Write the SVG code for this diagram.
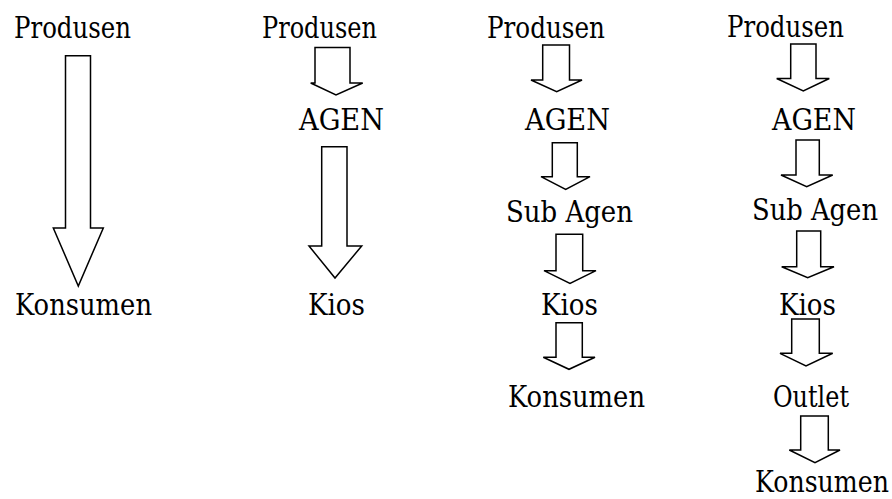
<svg xmlns="http://www.w3.org/2000/svg" width="892" height="499" viewBox="0 0 892 499">
<style>
.t{font-family:"DejaVu Serif","Liberation Serif",serif;font-size:29px;fill:#000}
.a{fill:#fff;stroke:#000;stroke-width:1.5;stroke-linejoin:miter}
</style>
<rect width="892" height="499" fill="#fff"/>
<g id="connectors">
<polygon class="a" points="65.5,55.7 90.5,55.7 90.5,228 103.3,228 78.3,286 53.3,228 65.5,228"/>
<polygon class="a" points="315,47.5 350,47.5 350,83 362.7,83 336,95 310.7,83 315,83"/>
<polygon class="a" points="321.7,146.7 347,146.7 347,246 361.7,246 335,278 309,246 321.7,246"/>
<polygon class="a" points="542.7,45 569.5,45 569.5,80 582,80 556.7,91.7 531,80 542.7,80"/>
<polygon class="a" points="552.3,142.7 577.3,142.7 577.3,176.7 590,176.7 565.7,189.3 541,176.7 552.3,176.7"/>
<polygon class="a" points="556,234.3 582.7,234.3 582.7,270.7 596,270.7 570,283.3 544,270.7 556,270.7"/>
<polygon class="a" points="556,322.7 582.3,322.7 582.3,357.3 595,357.3 569,369.3 543.3,357.3 556,357.3"/>
<polygon class="a" points="790.7,44 816,44 816,78.5 829.3,78.5 803.3,91 776.7,78.5 790.7,78.5"/>
<polygon class="a" points="796,140 819.3,140 819.3,175 832.7,175 806.7,186.7 781,175 796,175"/>
<polygon class="a" points="796.7,231 820.7,231 820.7,266.7 834,266.7 807.7,277.7 781.7,266.7 796.7,266.7"/>
<polygon class="a" points="791.7,319 819.3,319 819.3,353.3 832.7,353.3 806,366 780,353.3 791.7,353.3"/>
<polygon class="a" points="800.7,416 828.3,416 828.3,450 840,450 815,462.7 789.3,450 800.7,450"/>
</g>
<g id="c1-produsen"><text class="t" x="14" y="38" textLength="117" lengthAdjust="spacingAndGlyphs">Produsen</text></g>
<g id="c1-konsumen"><text class="t" x="15" y="315" textLength="137" lengthAdjust="spacingAndGlyphs">Konsumen</text></g>
<g id="c2-produsen"><text class="t" x="262" y="38" textLength="115" lengthAdjust="spacingAndGlyphs">Produsen</text></g>
<g id="c2-agen"><text class="t" x="299" y="130" textLength="85" lengthAdjust="spacingAndGlyphs">AGEN</text></g>
<g id="c2-kios"><text class="t" x="308" y="315" textLength="57" lengthAdjust="spacingAndGlyphs">Kios</text></g>
<g id="c3-produsen"><text class="t" x="487" y="38" textLength="118" lengthAdjust="spacingAndGlyphs">Produsen</text></g>
<g id="c3-agen"><text class="t" x="525" y="130" textLength="85" lengthAdjust="spacingAndGlyphs">AGEN</text></g>
<g id="c3-subagen"><text class="t" x="506" y="222" textLength="127" lengthAdjust="spacingAndGlyphs">Sub Agen</text></g>
<g id="c3-kios"><text class="t" x="541" y="315" textLength="57" lengthAdjust="spacingAndGlyphs">Kios</text></g>
<g id="c3-konsumen"><text class="t" x="508" y="407" textLength="137" lengthAdjust="spacingAndGlyphs">Konsumen</text></g>
<g id="c4-produsen"><text class="t" x="727" y="37" textLength="117" lengthAdjust="spacingAndGlyphs">Produsen</text></g>
<g id="c4-agen"><text class="t" x="772" y="130" textLength="84" lengthAdjust="spacingAndGlyphs">AGEN</text></g>
<g id="c4-subagen"><text class="t" x="752" y="220" textLength="126" lengthAdjust="spacingAndGlyphs">Sub Agen</text></g>
<g id="c4-kios"><text class="t" x="779" y="315" textLength="57" lengthAdjust="spacingAndGlyphs">Kios</text></g>
<g id="c4-outlet"><text class="t" x="773" y="407" textLength="76" lengthAdjust="spacingAndGlyphs">Outlet</text></g>
<g id="c4-konsumen"><text class="t" x="755" y="492" textLength="134" lengthAdjust="spacingAndGlyphs">Konsumen</text></g>
</svg>
